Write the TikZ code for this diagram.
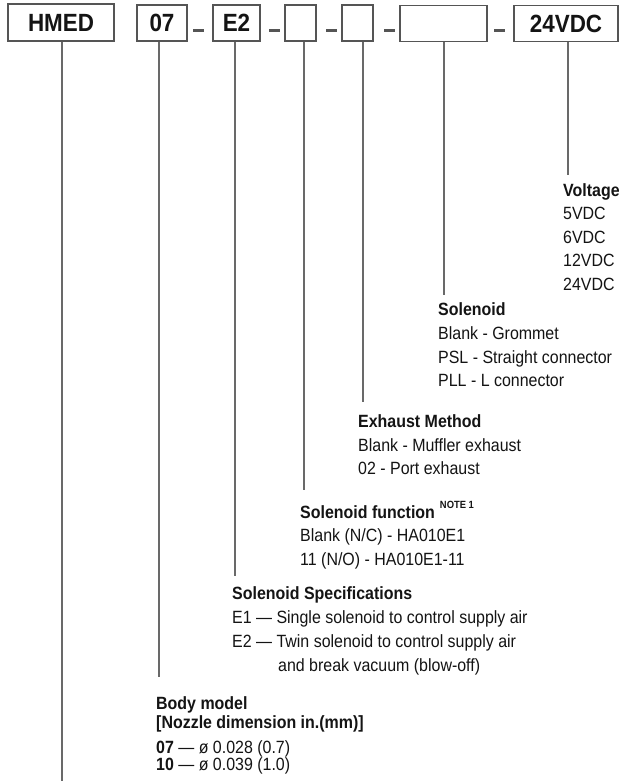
\documentclass[tikz,border=0pt]{standalone}
\usepackage{fontspec}
\setmainfont{Liberation Sans}[FakeStretch=0.9]
\definecolor{ink}{RGB}{20,20,20}
\definecolor{boxgray}{RGB}{85,85,85}
\definecolor{linegray}{RGB}{105,105,105}
\newcommand\boxfnt{\fontsize{25}{25}\selectfont\bfseries}
\newcommand\bodyfnt{\fontsize{17.8}{23.7}\selectfont}
\newcommand\notefnt{\fontsize{10.5}{10.5}\selectfont\bfseries}
\begin{document}
\begin{tikzpicture}[x=1bp,y=-1bp,
  codebox/.style={draw=boxgray, line width=1.4bp, inner sep=0pt, minimum height=36bp,
    text height=17.9bp, text depth=0pt, font=\boxfnt, text=ink},
  lbl/.style={anchor=base west, inner sep=0pt, font=\bodyfnt, text=ink},
  hd/.style={lbl, font=\bodyfnt\bfseries},
  conn/.style={draw=linegray, line width=1.3bp},
  sep/.style={draw=boxgray, line width=2.6bp}]
\useasboundingbox[fill=white] (0,0) rectangle (619,783);

% code boxes
\node[codebox, minimum width=106bp, minimum height=37bp] (hmed) at (61,22.5) {HMED};
\node[codebox, minimum width=50bp] (b07) at (162,23) {07};
\node[codebox, minimum width=47bp] (bE2) at (236.5,23) {E2};
\node[codebox, minimum width=31bp] (b4) at (300.5,23) {};
\node[codebox, minimum width=31bp] (b5) at (357.5,23) {};
\node[codebox, minimum width=87bp] (b6) at (443.5,23.5) {};
\node[codebox, minimum width=104bp] (bV) at (566,23.5) {24VDC};

% separators
\coordinate (d1a) at (193,30.5); \coordinate (d1b) at (204,30.5);
\coordinate (d2a) at (269,30.5); \coordinate (d2b) at (280,30.5);
\coordinate (d3a) at (326,30.5); \coordinate (d3b) at (337,30.5);
\coordinate (d4a) at (384,30.5); \coordinate (d4b) at (395,30.5);
\coordinate (d5a) at (494,30.5); \coordinate (d5b) at (505,30.5);
\foreach \i in {1,...,5} {\draw[sep] (d\i a) -- (d\i b);}

% connector end points
\coordinate (eH) at (62,781);
\coordinate (e07) at (159,677);
\coordinate (eE2) at (235,576);
\coordinate (e4) at (304,490);
\coordinate (e5) at (363,402);
\coordinate (e6) at (444,295);
\coordinate (eV) at (568,175);

\draw[conn] (hmed.south -| eH) -- (eH);
\draw[conn] (b07.south -| e07) -- (e07);
\draw[conn] (bE2.south -| eE2) -- (eE2);
\draw[conn] (b4.south -| e4) -- (e4);
\draw[conn] (b5.south -| e5) -- (e5);
\draw[conn] (b6.south -| e6) -- (e6);
\draw[conn] (bV.south -| eV) -- (eV);

% Voltage
\node[hd]  (vh) at (563,196) {Voltage};
\node[lbl] (v1) at (563,219.5) {5VDC};
\node[lbl] (v2) at (563,243) {6VDC};
\node[lbl] (v3) at (563,266.5) {12VDC};
\node[lbl] (v4) at (563,290) {24VDC};

% Solenoid
\node[hd]  (sh) at (438,315) {Solenoid};
\node[lbl] (s1) at (438,339) {Blank - Grommet};
\node[lbl] (s2) at (438,363) {PSL - Straight connector};
\node[lbl] (s3) at (438,386.5) {PLL - L connector};

% Exhaust method
\node[hd]  (xh) at (358,427) {Exhaust Method};
\node[lbl] (x1) at (358,451) {Blank - Muffler exhaust};
\node[lbl] (x2) at (358,474.5) {02 - Port exhaust};

% Solenoid function
\node[hd]  (fh) at (300,518) {Solenoid function\hspace{5bp}\raisebox{10bp}{\notefnt NOTE 1}};
\node[lbl] (f1) at (300,541.5) {Blank (N/C) - HA010E1};
\node[lbl] (f2) at (300,565) {11 (N/O) - HA010E1-11};

% Solenoid specifications
\node[hd]  (ph) at (232,599) {Solenoid Specifications};
\node[lbl] (p1) at (232,623) {E1 — Single solenoid to control supply air};
\node[lbl] (p2) at (232,647) {E2 — Twin solenoid to control supply air};
\node[lbl] (p3) at (278,671) {and break vacuum (blow-off)};

% Body model
\node[hd]  (bh1) at (156,709) {Body model};
\node[hd]  (bh2) at (156,728) {[Nozzle dimension in.(mm)]};
\node[lbl] (bm1) at (156,753) {\textbf{07} — ø 0.028 (0.7)};
\node[lbl] (bm2) at (156,770) {\textbf{10} — ø 0.039 (1.0)};
\end{tikzpicture}
\end{document}
